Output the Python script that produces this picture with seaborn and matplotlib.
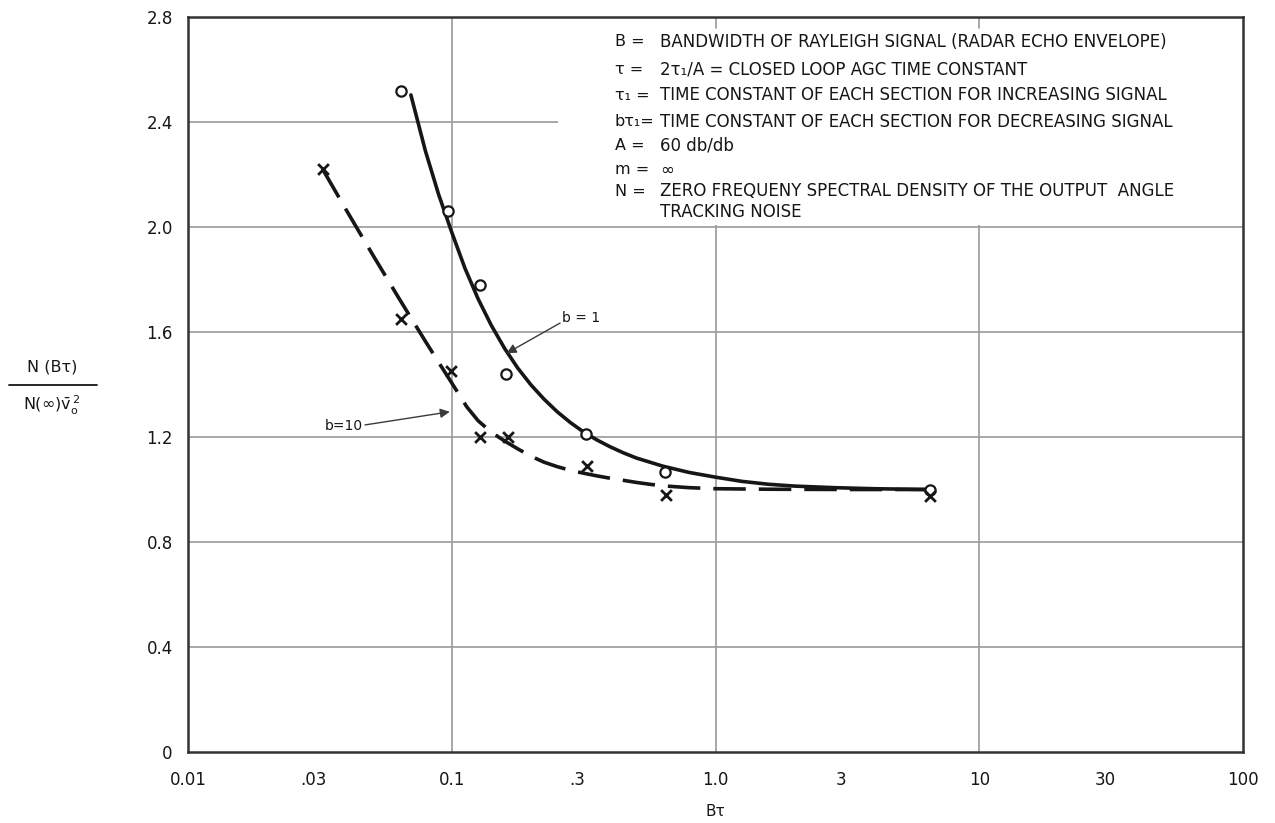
import numpy as np
import pandas as pd
import matplotlib
matplotlib.use("Agg")
import matplotlib.pyplot as plt
from matplotlib.lines import Line2D
from matplotlib.patches import Rectangle
import seaborn as sns

# ---- data -------------------------------------------------------------
# measured points, b = 1 (circles)
b1_pts_x = [0.064, 0.097, 0.128, 0.161, 0.323, 0.643, 6.5]
b1_pts_y = [2.52, 2.06, 1.78, 1.44, 1.21, 1.065, 1.0]
# measured points, b = 10 (crosses)
b10_pts_x = [0.0324, 0.064, 0.099, 0.128, 0.163, 0.325, 0.65, 6.5]
b10_pts_y = [2.22, 1.65, 1.45, 1.20, 1.20, 1.09, 0.98, 0.975]
# faired curve, b = 1 (solid)
b1_curve_x = [0.070, 0.0794, 0.0891, 0.100, 0.1122, 0.1259, 0.1413, 0.1585,
              0.1778, 0.1995, 0.2239, 0.2512, 0.2818, 0.3162, 0.3548, 0.398,
              0.4467, 0.501, 0.631, 0.794, 1.0, 1.259, 1.585, 1.995, 2.82,
              3.98, 6.3]
b1_curve_y = [2.503, 2.291, 2.125, 1.980, 1.843, 1.726, 1.625, 1.538,
              1.463, 1.399, 1.344, 1.296, 1.255, 1.219, 1.189, 1.163,
              1.140, 1.120, 1.089, 1.065, 1.047, 1.031, 1.020, 1.013, 1.007,
              1.003, 1.0]
# faired curve, b = 10 (dashed)
b10_curve_x = [0.0324, 0.0398, 0.0501, 0.0631, 0.0794, 0.0891, 0.100, 0.114,
               0.1259, 0.1413, 0.1585, 0.1778, 0.1995, 0.2239, 0.2512, 0.2818,
               0.3162, 0.3548, 0.398, 0.4467, 0.501, 0.5623, 0.631, 0.794,
               1.0, 1.585, 3.16, 6.3]
b10_curve_y = [2.22, 2.065, 1.895, 1.728, 1.565, 1.485, 1.406, 1.315,
               1.262, 1.218, 1.185, 1.155, 1.127, 1.104, 1.087, 1.073,
               1.062, 1.052, 1.043, 1.035, 1.027, 1.020, 1.014, 1.007,
               1.003, 1.001, 1.0, 1.0]

x_ticks = [0.01, 0.03, 0.1, 0.3, 1.0, 3, 10, 30, 100]
x_tick_labels = ["0.01", ".03", "0.1", ".3", "1.0", "3", "10", "30", "100"]
y_ticks = [0, 0.4, 0.8, 1.2, 1.6, 2.0, 2.4, 2.8]
y_tick_labels = ["0", "0.4", "0.8", "1.2", "1.6", "2.0", "2.4", "2.8"]
x_grid = [0.1, 1.0, 10]

notes_key = ["B =", "τ =", "τ₁ =", "bτ₁=", "A =", "m =", "N =", ""]
notes_text = [
    "BANDWIDTH OF RAYLEIGH SIGNAL (RADAR ECHO ENVELOPE)",
    "2τ₁/A = CLOSED LOOP AGC TIME CONSTANT",
    "TIME CONSTANT OF EACH SECTION FOR INCREASING SIGNAL",
    "TIME CONSTANT OF EACH SECTION FOR DECREASING SIGNAL",
    "60 db/db",
    "∞",
    "ZERO FREQUENY SPECTRAL DENSITY OF THE OUTPUT  ANGLE",
    "TRACKING NOISE",
]

# ---- style ------------------------------------------------------------
sns.set_style("white")
plt.rcParams["font.family"] = ["DejaVu Sans"]
plt.rcParams["mathtext.fontset"] = "dejavusans"

INK = "#161616"
GRID = "#9a9a9a"
W, H = 1275, 823

fig = plt.figure(figsize=(W / 100, H / 100), dpi=100)
fig.patch.set_facecolor("white")
ax = fig.add_axes([188 / W, 1 - 752 / H, (1243 - 188) / W, (752 - 17) / H])
ax.set_facecolor("white")

ax.set_xscale("log")
ax.set_xlim(0.01, 100)
ax.set_ylim(0, 2.8)

# grid
for yv in y_ticks[1:-1]:
    ax.axhline(yv, color=GRID, lw=1.2, zorder=0.5)
for xv in x_grid:
    ax.axvline(xv, color=GRID, lw=1.2, zorder=0.5)

# blank panel for the notes
ax.add_patch(Rectangle((0.253, 2.006), 100 - 0.253, 2.8 - 2.006,
                       facecolor="white", edgecolor="none", zorder=1))
for xv in x_grid[1:]:
    ax.axvline(xv, ymin=0.985, ymax=1.0, color=GRID, lw=1.2, zorder=1.5)

# curves
df1 = pd.DataFrame({"x": b1_curve_x, "y": b1_curve_y})
df10 = pd.DataFrame({"x": b10_curve_x, "y": b10_curve_y})
sns.lineplot(data=df1, x="x", y="y", ax=ax, color=INK, lw=2.6,
             sort=False, estimator=None, zorder=3)
ax.lines[-1].set_solid_joinstyle("round")
sns.lineplot(data=df10, x="x", y="y", ax=ax, color=INK, lw=2.6,
             sort=False, estimator=None, zorder=3)
ax.lines[-1].set_dashes((9, 3.6))
ax.lines[-1].set_dash_capstyle("butt")
ax.lines[-1].set_dash_joinstyle("round")

# points
p1 = pd.DataFrame({"x": b1_pts_x, "y": b1_pts_y})
p10 = pd.DataFrame({"x": b10_pts_x, "y": b10_pts_y})
sns.scatterplot(data=p1, x="x", y="y", ax=ax, marker="o", s=55,
                facecolor="white", edgecolor=INK, linewidth=1.6, zorder=4)
sns.scatterplot(data=p10, x="x", y="y", ax=ax, marker="x", s=60,
                color=INK, linewidth=2.0, zorder=4)

# curve labels
arrow = dict(arrowstyle="-|>", color="#3a3a3a", lw=1.0,
             mutation_scale=14, shrinkA=0, shrinkB=0)
ax.annotate("", xy=(0.1615, 1.519), xytext=(0.2574, 1.634),
            arrowprops=arrow, zorder=5)
ax.text(0.262, 1.652, "b = 1", fontsize=10, color=INK, va="center",
        ha="left", zorder=5)
ax.annotate("", xy=(0.0983, 1.296), xytext=(0.0469, 1.246),
            arrowprops=arrow, zorder=5)
ax.text(0.0462, 1.242, "b=10", fontsize=10, color=INK, va="center",
        ha="right", zorder=5)

# axes cosmetics
for s in ax.spines.values():
    s.set_color("#333333")
    s.set_linewidth(1.8)
    s.set_zorder(6)
ax.set_xticks(x_ticks)
ax.set_xticklabels(x_tick_labels)
ax.xaxis.set_minor_locator(matplotlib.ticker.NullLocator())
ax.set_yticks(y_ticks)
ax.set_yticklabels(y_tick_labels)
ax.tick_params(axis="x", direction="in", length=12, width=1.2,
               color=GRID, pad=14, labelsize=12, labelcolor=INK)
ax.tick_params(axis="y", length=0, pad=11, labelsize=12, labelcolor=INK)
ax.set_xlabel("")
ax.set_ylabel("")
fig.text(715 / W, 1 - 811 / H, "Bτ", fontsize=11, color=INK,
         ha="center", va="center")

# notes panel text
ys = [41.7, 70, 95.5, 121.7, 145.5, 170, 191, 212.3]
for key, txt, yp in zip(notes_key, notes_text, ys):
    if key:
        fig.text(615 / W, 1 - yp / H, key, fontsize=11.5, color=INK,
                 ha="left", va="center")
    fig.text(660 / W, 1 - yp / H, txt, fontsize=12, color=INK,
             ha="left", va="center")

# vertical axis label as a fraction
fig.text(52 / W, 1 - 367 / H, "N (Bτ)", fontsize=11.5, color=INK,
         ha="center", va="center")
fig.add_artist(Line2D([9 / W, 97 / W], [1 - 385 / H, 1 - 385 / H],
                      color=INK, lw=1.3))
fig.text(52 / W, 1 - 405 / H, r"N($\infty$)$\bar{\mathrm{v}}_{\mathrm{o}}^{\,2}$",
         fontsize=11.5, color=INK, ha="center", va="center")

fig.savefig("out.png", dpi=100, facecolor="white")
